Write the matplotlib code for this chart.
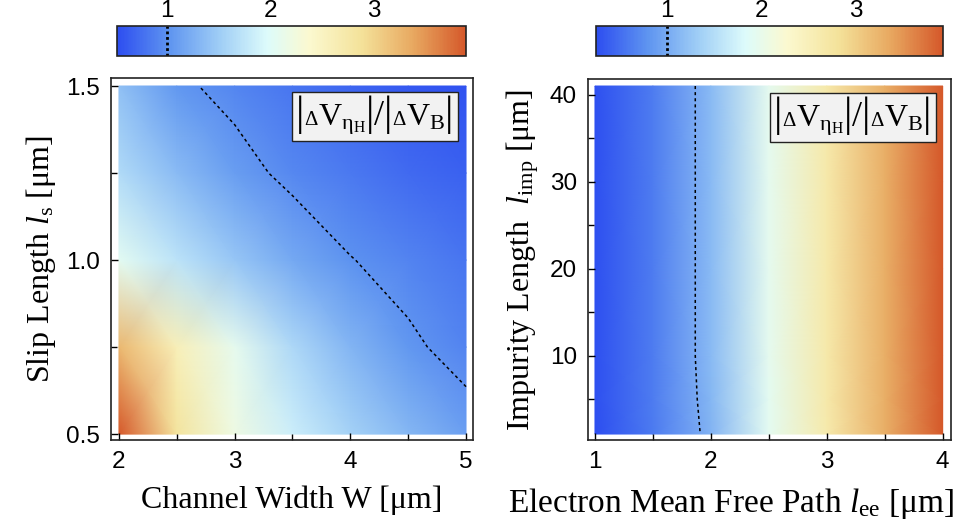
import numpy as np
import matplotlib
matplotlib.use("Agg")
import matplotlib.pyplot as plt
from matplotlib.colors import LinearSegmentedColormap, Normalize
from matplotlib.cm import ScalarMappable
from matplotlib.ticker import MultipleLocator
from matplotlib.offsetbox import TextArea, HPacker, AnchoredOffsetbox

plt.rcParams['mathtext.fontset'] = 'custom'
plt.rcParams['mathtext.rm'] = 'Liberation Serif'
plt.rcParams['mathtext.it'] = 'Liberation Serif:italic'

# left panel: ratio vs channel width and slip length
width_w = [2.0, 2.5, 3.0, 3.5, 4.0, 4.5, 5.0]
slip_ls = [0.5, 0.75, 1.0, 1.25, 1.5]
ratio_left = [
    [3.90, 2.85, 2.20, 1.85, 1.55, 1.32, 1.12],
    [3.25, 2.60, 2.10, 1.62, 1.30, 1.05, 0.90],
    [2.05, 1.72, 1.45, 1.20, 1.01, 0.90, 0.80],
    [1.65, 1.35, 1.10, 0.93, 0.82, 0.72, 0.65],
    [1.40, 1.05, 0.92, 0.80, 0.70, 0.60, 0.55],
]

# right panel: ratio vs electron mean free path and impurity length
mfp_lee = [1.0, 1.5, 2.0, 2.5, 3.0, 3.5, 4.0]
imp_limp = [1, 5, 10, 20, 30, 41]
ratio_right = [
    [0.26, 0.60, 1.09, 1.93, 2.64, 3.30, 3.91],
    [0.27, 0.61, 1.12, 1.94, 2.65, 3.30, 3.91],
    [0.27, 0.62, 1.14, 1.95, 2.65, 3.30, 3.92],
    [0.27, 0.62, 1.14, 1.95, 2.65, 3.30, 3.92],
    [0.27, 0.62, 1.14, 1.95, 2.65, 3.30, 3.92],
    [0.27, 0.62, 1.14, 1.95, 2.65, 3.30, 3.92],
]

range_left = (0.515, 3.9)
range_right = (0.25, 3.92)
cbar_ticks = [1, 2, 3]

temp_colors = [
    (0.00, '#2d4ef0'),
    (0.15, '#5f95f0'),
    (0.30, '#a2d0f6'),
    (0.43, '#ddfbfb'),
    (0.55, '#fbf9d0'),
    (0.70, '#f4e29a'),
    (0.85, '#e8a860'),
    (1.00, '#d5582a'),
]
cmap = LinearSegmentedColormap.from_list('temperature', temp_colors)

# pieces of |ΔV_ηH|/|ΔV_B| with their font sizes
label_parts = [
    ('|', 30), ('Δ', 15), (r'$\mathrm{V}_{\mathrm{\eta}_\mathrm{H}}$', 23),
    ('|', 30), ('/', 26), ('|', 30), ('Δ', 15),
    (r'$\mathrm{V}_\mathrm{B}$', 23), ('|', 30),
]


def style_axes(ax):
    for s in ax.spines.values():
        s.set_linewidth(1.2)
        s.set_color('#222222')
    ax.tick_params(which='both', direction='in', top=False, right=False,
                   labelsize=17.5, pad=8)
    ax.tick_params(which='major', length=5, width=1)
    ax.tick_params(which='minor', length=4, width=1)
    for t in ax.get_xticklabels() + ax.get_yticklabels():
        t.set_fontfamily('Liberation Sans')


def add_label(ax):
    boxes = [TextArea(s, textprops=dict(fontsize=fs, family='Liberation Serif'))
             for s, fs in label_parts]
    pack = HPacker(children=boxes, align='baseline', pad=0, sep=0)
    anch = AnchoredOffsetbox(loc='upper right', child=pack, pad=0.3,
                             borderpad=0, frameon=True,
                             bbox_to_anchor=(0.958, 0.962),
                             bbox_transform=ax.transAxes)
    anch.patch.set_facecolor('#f2f2f2')
    anch.patch.set_edgecolor('#222222')
    anch.patch.set_linewidth(1)
    anch.patch.set_boxstyle('square', pad=0)
    ax.add_artist(anch)


def draw_panel(ax, x, y, z, rng):
    xx, yy = np.meshgrid(x, y)
    zz = np.array(z)
    ax.pcolormesh(xx, yy, zz, shading='gouraud', cmap=cmap,
                  vmin=rng[0], vmax=rng[1])
    ax.contour(xx, yy, zz, levels=[1.0], colors='black',
               linewidths=1.1, linestyles=[(0, (2, 2))])
    add_label(ax)


def draw_cbar(fig, rect, rng):
    cax = fig.add_axes(rect)
    sm = ScalarMappable(norm=Normalize(*rng), cmap=cmap)
    cb = fig.colorbar(sm, cax=cax, orientation='horizontal')
    cb.outline.set_linewidth(1.2)
    cb.outline.set_edgecolor('#222222')
    cax.xaxis.set_ticks_position('top')
    cax.set_xticks(cbar_ticks)
    cax.tick_params(length=0, labelsize=17.5, pad=3)
    for t in cax.get_xticklabels():
        t.set_fontfamily('Liberation Sans')
    cax.axvline(1.0, color='black', linewidth=2, linestyle=(0, (1, 1)))


fig = plt.figure(figsize=(9.7, 5.27), dpi=100)

ax1 = fig.add_axes([0.1144, 0.165, 0.3732, 0.687])
draw_panel(ax1, width_w, slip_ls, ratio_left, range_left)
ax1.set_xlim(1.931, 5.06)
ax1.set_ylim(0.483, 1.523)
ax1.set_xticks([2, 3, 4, 5])
ax1.set_yticks([0.5, 1.0, 1.5])
ax1.xaxis.set_minor_locator(MultipleLocator(0.5))
ax1.yaxis.set_minor_locator(MultipleLocator(0.25))
ax1.set_yticklabels(['0.5', '1.0', '1.5'])
style_axes(ax1)
ax1.set_xlabel('Channel Width W [μm]', fontsize=23,
               fontfamily='Liberation Serif', labelpad=9)
ax1.set_ylabel(r'Slip Length $l_\mathrm{s}$ [μm]', fontsize=23,
               fontfamily='Liberation Serif', labelpad=6)

ax2 = fig.add_axes([0.6062, 0.165, 0.374, 0.685])
draw_panel(ax2, mfp_lee, imp_limp, ratio_right, range_right)
ax2.set_xlim(0.94, 4.07)
ax2.set_ylim(0.31, 41.8)
ax2.set_xticks([1, 2, 3, 4])
ax2.set_yticks([10, 20, 30, 40])
ax2.xaxis.set_minor_locator(MultipleLocator(0.5))
ax2.yaxis.set_minor_locator(MultipleLocator(5))
style_axes(ax2)
ax2.set_xlabel(r'Electron Mean Free Path $l_\mathrm{ee}$ [μm]', fontsize=24,
               fontfamily='Liberation Serif', labelpad=9)
ax2.xaxis.label.set_x(0.394)
ax2.set_ylabel(r'Impurity Length  $l_\mathrm{imp}$ [μm]', fontsize=23,
               fontfamily='Liberation Serif', labelpad=6)

draw_cbar(fig, [0.1206, 0.8937, 0.36, 0.057], range_left)
draw_cbar(fig, [0.6144, 0.8937, 0.3577, 0.057], range_right)

fig.savefig('out.png', dpi=100)
